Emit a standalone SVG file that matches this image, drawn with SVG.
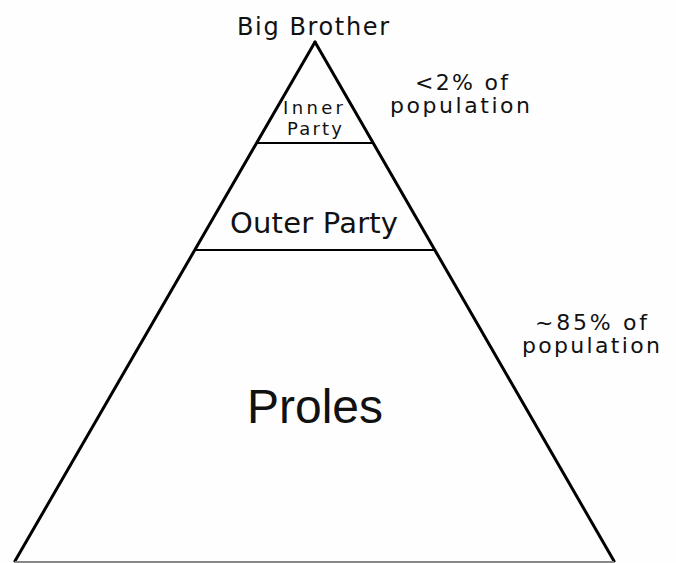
<svg xmlns="http://www.w3.org/2000/svg" width="676" height="563" viewBox="0 0 676 563">
<style>
.t{font-family:"DejaVu Sans","Liberation Sans",Arial,sans-serif;fill:#111;}
.p{font-family:"Liberation Sans",Arial,sans-serif;fill:#111;}
.edge{stroke:#000;stroke-width:3;fill:none;stroke-linecap:round;}
.div{stroke:#000;stroke-width:2;fill:none;}
</style>
<rect width="676" height="563" fill="#fefefe"/>
<g id="connectors">
<line class="edge" x1="315" y1="42" x2="15" y2="561"/>
<line class="edge" x1="315" y1="42" x2="614" y2="561"/>
<line x1="15" y1="562" x2="614" y2="562" stroke="#888" stroke-width="2"/>
</g>
<g id="big-brother"><text class="t" x="237" y="35" font-size="24" textLength="152" lengthAdjust="spacing">Big Brother</text></g>
<g id="inner-party">
<line class="div" x1="258" y1="143" x2="372" y2="143"/>
<text class="t" x="283" y="114" font-size="18" textLength="60" lengthAdjust="spacing">Inner</text>
<text class="t" x="287" y="135" font-size="18" textLength="55" lengthAdjust="spacing">Party</text>
</g>
<g id="outer-party">
<line class="div" x1="196" y1="250" x2="434" y2="250"/>
<text class="t" x="230" y="233" font-size="29" textLength="168" lengthAdjust="spacing">Outer Party</text>
</g>
<g id="proles"><text class="p" x="247" y="423" font-size="48" textLength="136" lengthAdjust="spacingAndGlyphs">Proles</text></g>
<g id="label-top">
<text class="t" x="415" y="90" font-size="22" textLength="93" lengthAdjust="spacing">&lt;2% of</text>
<text class="t" x="390" y="113" font-size="22" textLength="140" lengthAdjust="spacing">population</text>
</g>
<g id="label-bottom">
<text class="t" x="535" y="330" font-size="22" textLength="112" lengthAdjust="spacing">~85% of</text>
<text class="t" x="522" y="353" font-size="22" textLength="138" lengthAdjust="spacing">population</text>
</g>
</svg>
